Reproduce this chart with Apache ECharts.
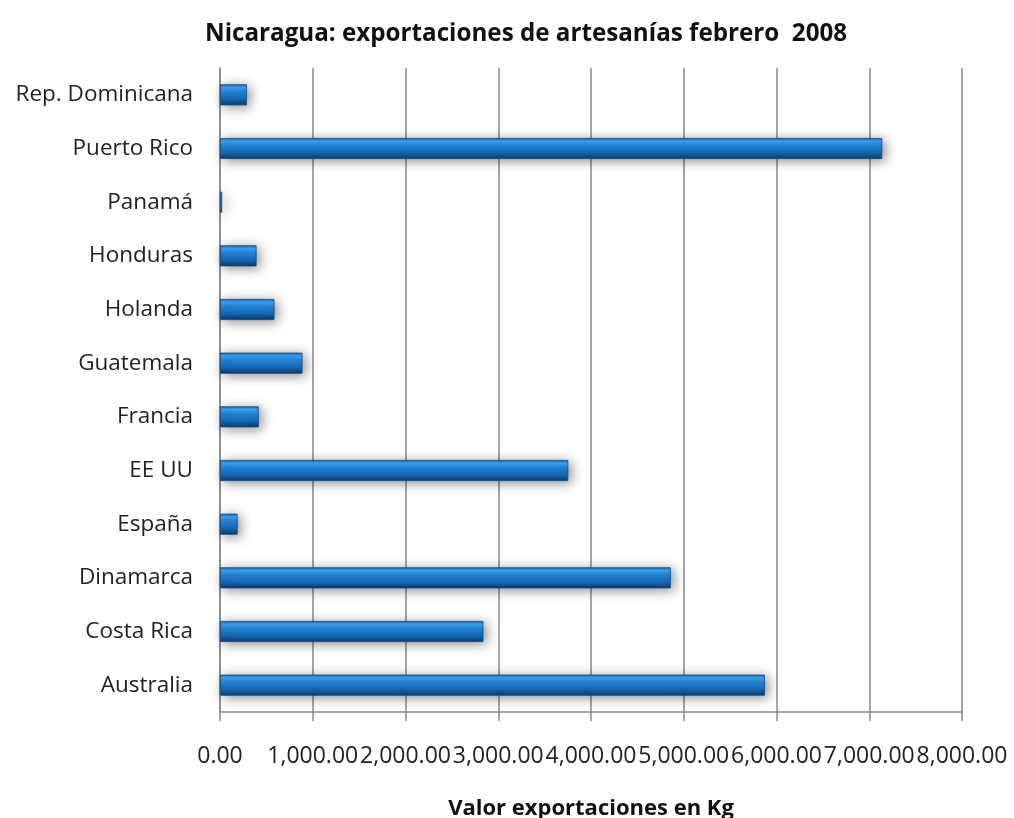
<!DOCTYPE html>
<html>
<head>
<meta charset="utf-8">
<script src="https://cdn.jsdelivr.net/npm/echarts@6/dist/echarts.min.js"></script>
<style>html,body{margin:0;padding:0;background:#fff}#c{width:1014px;height:818px}</style>
</head>
<body>
<div id="c"></div>
<script>
const categories = ["Australia","Costa Rica","Dinamarca","España","EE UU","Francia","Guatemala","Holanda","Honduras","Panamá","Puerto Rico","Rep. Dominicana"];
const values = [5875, 2840, 4860, 190, 3755, 418, 889, 587, 394, 24, 7140, 289];
const titleText = "Nicaragua: exportaciones de artesanías febrero  2008";
const xAxisName = "Valor exportaciones en Kg";

const chart = echarts.init(document.getElementById('c'));
chart.setOption({
  backgroundColor: '#fff',
  animation: false,
  title: {
    text: titleText, left: 200, top: 17,
    textStyle: { fontFamily: 'Open Sans', fontSize: 24.2, fontWeight: 'bold', color: '#111' }
  },
  grid: { left: 220, right: 52, top: 68, bottom: 106, containLabel: false, outerBoundsMode: 'none' },
  xAxis: {
    type: 'value', min: 0, max: 8000, interval: 1000,
    name: xAxisName, nameLocation: 'middle', nameGap: 86,
    nameTextStyle: { fontFamily: 'Open Sans', fontSize: 22, fontWeight: 'bold', color: '#111' },
    axisLine: { show: true, lineStyle: { color: '#888', width: 1.5 } },
    axisTick: { show: true, length: 9, inside: false, lineStyle: { color: '#888', width: 1.5 } },
    axisLabel: {
      margin: 33, fontFamily: 'Open Sans', fontSize: 23, color: '#222', hideOverlap: false,
      formatter: v => v.toLocaleString('en-US', { minimumFractionDigits: 2, maximumFractionDigits: 2 })
    },
    splitLine: { show: true, lineStyle: { color: '#888', width: 1.5 } }
  },
  yAxis: {
    type: 'category', data: categories,
    axisLine: { show: true, lineStyle: { color: '#888', width: 1.5 } },
    axisTick: { show: false },
    axisLabel: { margin: 27, fontFamily: 'Open Sans', fontSize: 22.5, color: '#222' }
  },
  series: [{
    type: 'bar', data: values, barWidth: 21,
    itemStyle: {
      color: new echarts.graphic.LinearGradient(0, 0, 0, 1, [
        { offset: 0, color: '#1a64ab' },
        { offset: 0.15, color: '#3da2f0' },
        { offset: 0.35, color: '#2385d8' },
        { offset: 0.7, color: '#1769b4' },
        { offset: 1, color: '#0b3a68' }
      ]),
      borderColor: '#0f4a82', borderWidth: 0.8,
      shadowColor: 'rgba(0,0,0,0.45)', shadowBlur: 12, shadowOffsetX: 3, shadowOffsetY: 2
    }
  }]
});
</script>
</body>
</html>
